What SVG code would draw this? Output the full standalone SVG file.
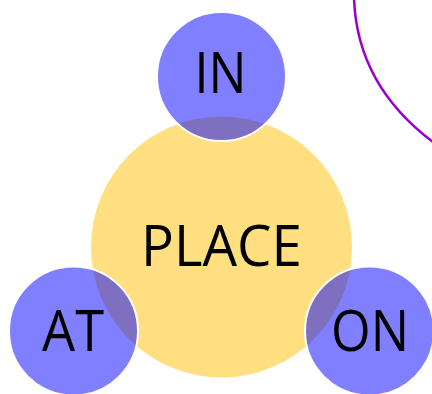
<svg xmlns="http://www.w3.org/2000/svg" width="432" height="394" viewBox="0 0 432 394">
<style>
.big{fill:#FFDF80}
.sm{fill:#0000FF;fill-opacity:0.5;stroke:#FFFFFF;stroke-width:2}
.t{font-family:"Open Sans","Noto Sans",sans-serif;font-size:57px;fill:#000;text-anchor:middle}
</style>
<rect width="432" height="394" fill="#FFFFFF"/>
<g id="connectors">
<path d="M354,-2 C356,58 385,106 433,142" fill="none" stroke="#9900CC" stroke-width="2.5"/>
</g>
<g id="place">
<circle class="big" cx="221.5" cy="247" r="130.5"/>
<text class="t" x="221.5" y="266" textLength="161" lengthAdjust="spacingAndGlyphs">PLACE</text>
</g>
<g id="in">
<circle class="sm" cx="221.5" cy="76.5" r="64.5"/>
<text class="t" x="220.5" y="93" textLength="52" lengthAdjust="spacingAndGlyphs">IN</text>
</g>
<g id="at">
<circle class="sm" cx="73.5" cy="331" r="64.5"/>
<text class="t" x="73" y="351" textLength="62" lengthAdjust="spacingAndGlyphs">AT</text>
</g>
<g id="on">
<circle class="sm" cx="369.5" cy="331" r="64.5"/>
<text class="t" x="370" y="351" textLength="78" lengthAdjust="spacingAndGlyphs">ON</text>
</g>
</svg>
